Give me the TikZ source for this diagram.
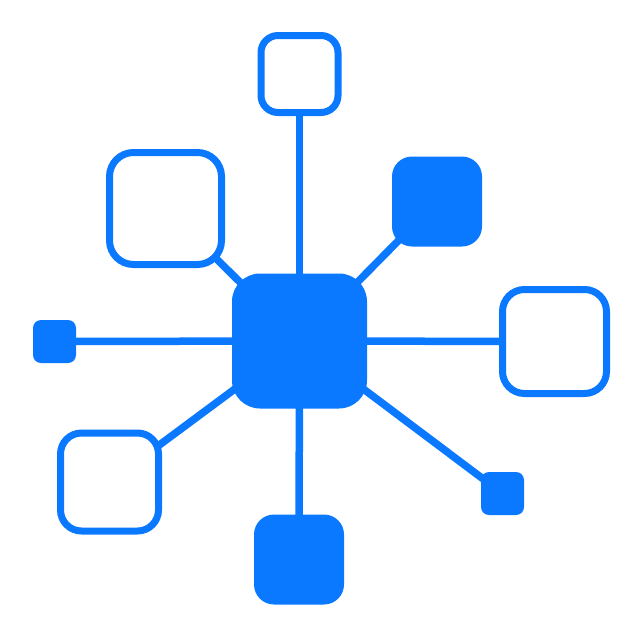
\documentclass[tikz,border=0pt]{standalone}
\usetikzlibrary{backgrounds}
\definecolor{hubblue}{RGB}{10,120,255}
\begin{document}
\begin{tikzpicture}[x=1pt,y=-1pt,
  link/.style={draw=hubblue,line width=7.5pt},
  box/.style={rectangle,inner sep=0pt,outer sep=0pt},
  solidbox/.style={box,fill=hubblue},
  openbox/.style={box,draw=hubblue,fill=white,line width=7pt}]
\useasboundingbox (0,0) rectangle (640,640);
\node[solidbox,minimum size=135pt,rounded corners=28pt] (hub) at (299.5,341) {};
\node[openbox,minimum size=77pt,rounded corners=17pt] (top) at (299.5,74) {};
\node[solidbox,minimum size=90pt,rounded corners=20pt] (tr) at (437,201.5) {};
\node[openbox,minimum size=104pt,rounded corners=22pt] (right) at (554.5,341.5) {};
\node[solidbox,minimum size=43pt,rounded corners=8pt] (br) at (502.5,493.5) {};
\node[solidbox,minimum size=90pt,rounded corners=20pt] (bottom) at (299,559.5) {};
\node[openbox,minimum size=98pt,rounded corners=21pt] (bl) at (109.5,482) {};
\node[solidbox,minimum size=43pt,rounded corners=8pt] (left) at (54.5,341.5) {};
\node[openbox,minimum size=112pt,rounded corners=24pt] (tl) at (165.5,208.5) {};
\begin{scope}[on background layer]
\foreach \n in {top,tr,right,br,bottom,bl,left,tl}{
  \draw[link] (hub.center) -- (\n.center);
}
\end{scope}
\end{tikzpicture}
\end{document}
